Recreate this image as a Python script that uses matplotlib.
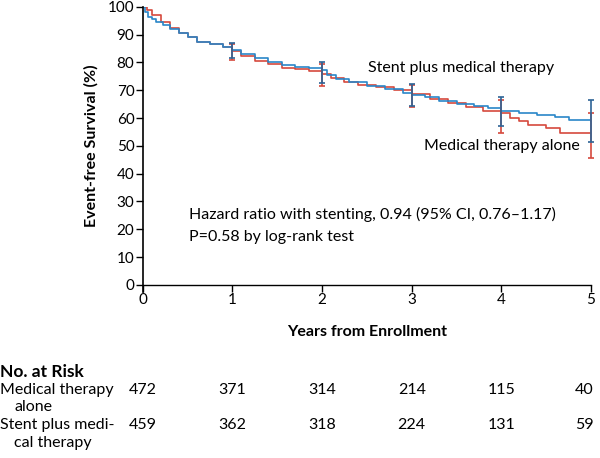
import numpy as np
import matplotlib
matplotlib.use("Agg")
import matplotlib.pyplot as plt
from matplotlib.transforms import blended_transform_factory

plt.rcParams['font.family'] = ['Lato', 'DejaVu Sans']

# Kaplan-Meier steps (years, % event-free)
stent_t = [0, 0.03, 0.06, 0.1, 0.15, 0.22, 0.3, 0.4, 0.5, 0.6, 0.75, 0.9, 1.0, 1.1,
           1.25, 1.4, 1.55, 1.7, 1.85, 2.0, 2.05, 2.15, 2.3, 2.5, 2.7, 2.9, 3.0, 3.15,
           3.3, 3.5, 3.7, 3.85, 4.0, 4.2, 4.4, 4.6, 4.75, 5.0]
stent_v = [100, 98, 96.5, 95.5, 94.5, 93.3, 92, 90.5, 89, 87.5, 86.5, 85.5, 84.5, 83,
           81.5, 80, 79, 78.5, 78, 77.3, 75.5, 74, 72.8, 71.5, 70.3, 69, 68.3, 67.5,
           66.3, 65.2, 64.3, 63.5, 62.4, 62, 61.2, 60.3, 59.2, 59.1]

med_t = [0, 0.05, 0.1, 0.2, 0.3, 0.4, 0.5, 0.6, 0.75, 0.9, 1.0, 1.1, 1.25, 1.4, 1.55,
         1.7, 1.85, 2.0, 2.1, 2.25, 2.4, 2.6, 2.8, 3.0, 3.2, 3.4, 3.6, 3.8, 4.0, 4.1,
         4.2, 4.3, 4.5, 4.65, 5.0]
med_v = [100, 99, 97, 94.5, 92.5, 90.5, 89, 87.5, 86.5, 85.5, 84, 82.5, 80.5, 79.5, 78,
         77.5, 77, 76, 74.5, 73, 72, 71, 70, 68.5, 67, 65.5, 64, 62.5, 62, 60,
         59, 57.5, 56.5, 54.7, 54.7]

# 95% CI bars at each year
ci_years = [1, 2, 3, 4, 5]
stent_lo = [81.5, 72.5, 64.3, 57.2, 51.4]
stent_hi = [87, 80, 72.3, 67.6, 66.5]
med_lo = [81, 71.5, 64, 54.7, 45.7]
med_hi = [86.5, 79.5, 72, 66.5, 62]

# number at risk
risk_years = [0, 1, 2, 3, 4, 5]
risk_med = [472, 371, 314, 214, 115, 40]
risk_stent = [459, 362, 318, 224, 131, 59]

blue = '#2a86c8'
red = '#d6493d'
blue_dark = '#2d6496'

fig = plt.figure(figsize=(6, 4.58), dpi=100)
ax = fig.add_axes([0.238, 0.378, 0.747, 0.607])

ax.step(med_t, med_v, where='post', color=red, lw=1.2)
ax.step(stent_t, stent_v, where='post', color=blue, lw=1.2)

def ci_bar(years, lo, hi, col):
    mid = [(a + b) / 2 for a, b in zip(lo, hi)]
    err = [[m - a for m, a in zip(mid, lo)], [b - m for m, b in zip(mid, hi)]]
    ax.errorbar(years, mid, yerr=err, fmt='none', ecolor=col, elinewidth=1.2,
                capsize=2.5, capthick=1.2, clip_on=False)

ci_bar(ci_years, med_lo, med_hi, red)
ci_bar(ci_years, stent_lo, stent_hi, blue_dark)

ax.set_xlim(0, 5)
ax.set_ylim(0, 100)
ax.set_xticks(range(6))
ax.set_yticks(range(0, 101, 10))
ax.spines['top'].set_visible(False)
ax.spines['right'].set_visible(False)
ax.spines['left'].set_bounds(-2.5, 100)
ax.spines['left'].set_linewidth(1.2)
ax.spines['bottom'].set_linewidth(1.0)
ax.tick_params(direction='out', length=5, width=1, labelsize=11, pad=1)

ax.set_ylabel('Event-free Survival (%)', fontsize=11.5, fontweight='bold', labelpad=7)
ax.set_xlabel('Years from Enrollment', fontsize=11.5, fontweight='bold', labelpad=13)

fs = 11.5
ax.text(2.51, 78, 'Stent plus medical therapy', fontsize=fs, va='center')
ax.text(3.14, 50, 'Medical therapy alone', fontsize=fs, va='center')
ax.text(0.52, 25.2, 'Hazard ratio with stenting, 0.94 (95% CI, 0.76\u20131.17)',
        fontsize=fs, va='center')
ax.text(0.52, 17.3, 'P=0.58 by log-rank test', fontsize=fs, va='center')

# risk table
fig.text(0.0, 1 - 372 / 458, 'No. at Risk', fontsize=12.5, fontweight='bold', va='center')
fig.text(0.0, 1 - 390 / 458, 'Medical therapy', fontsize=fs, va='center')
fig.text(0.024, 1 - 407 / 458, 'alone', fontsize=fs, va='center')
fig.text(0.0, 1 - 425 / 458, 'Stent plus medi-', fontsize=fs, va='center')
fig.text(0.024, 1 - 443 / 458, 'cal therapy', fontsize=fs, va='center')

tr = blended_transform_factory(ax.transData, fig.transFigure)
for x, a, b in zip(risk_years, risk_med, risk_stent):
    ha = 'right' if x == 5 else 'center'
    xx = 5.03 if x == 5 else x
    fig.text(xx, 1 - 390 / 458, str(a), fontsize=fs, va='center', ha=ha, transform=tr)
    fig.text(xx, 1 - 425 / 458, str(b), fontsize=fs, va='center', ha=ha, transform=tr)

fig.savefig('out.png', dpi=100)
